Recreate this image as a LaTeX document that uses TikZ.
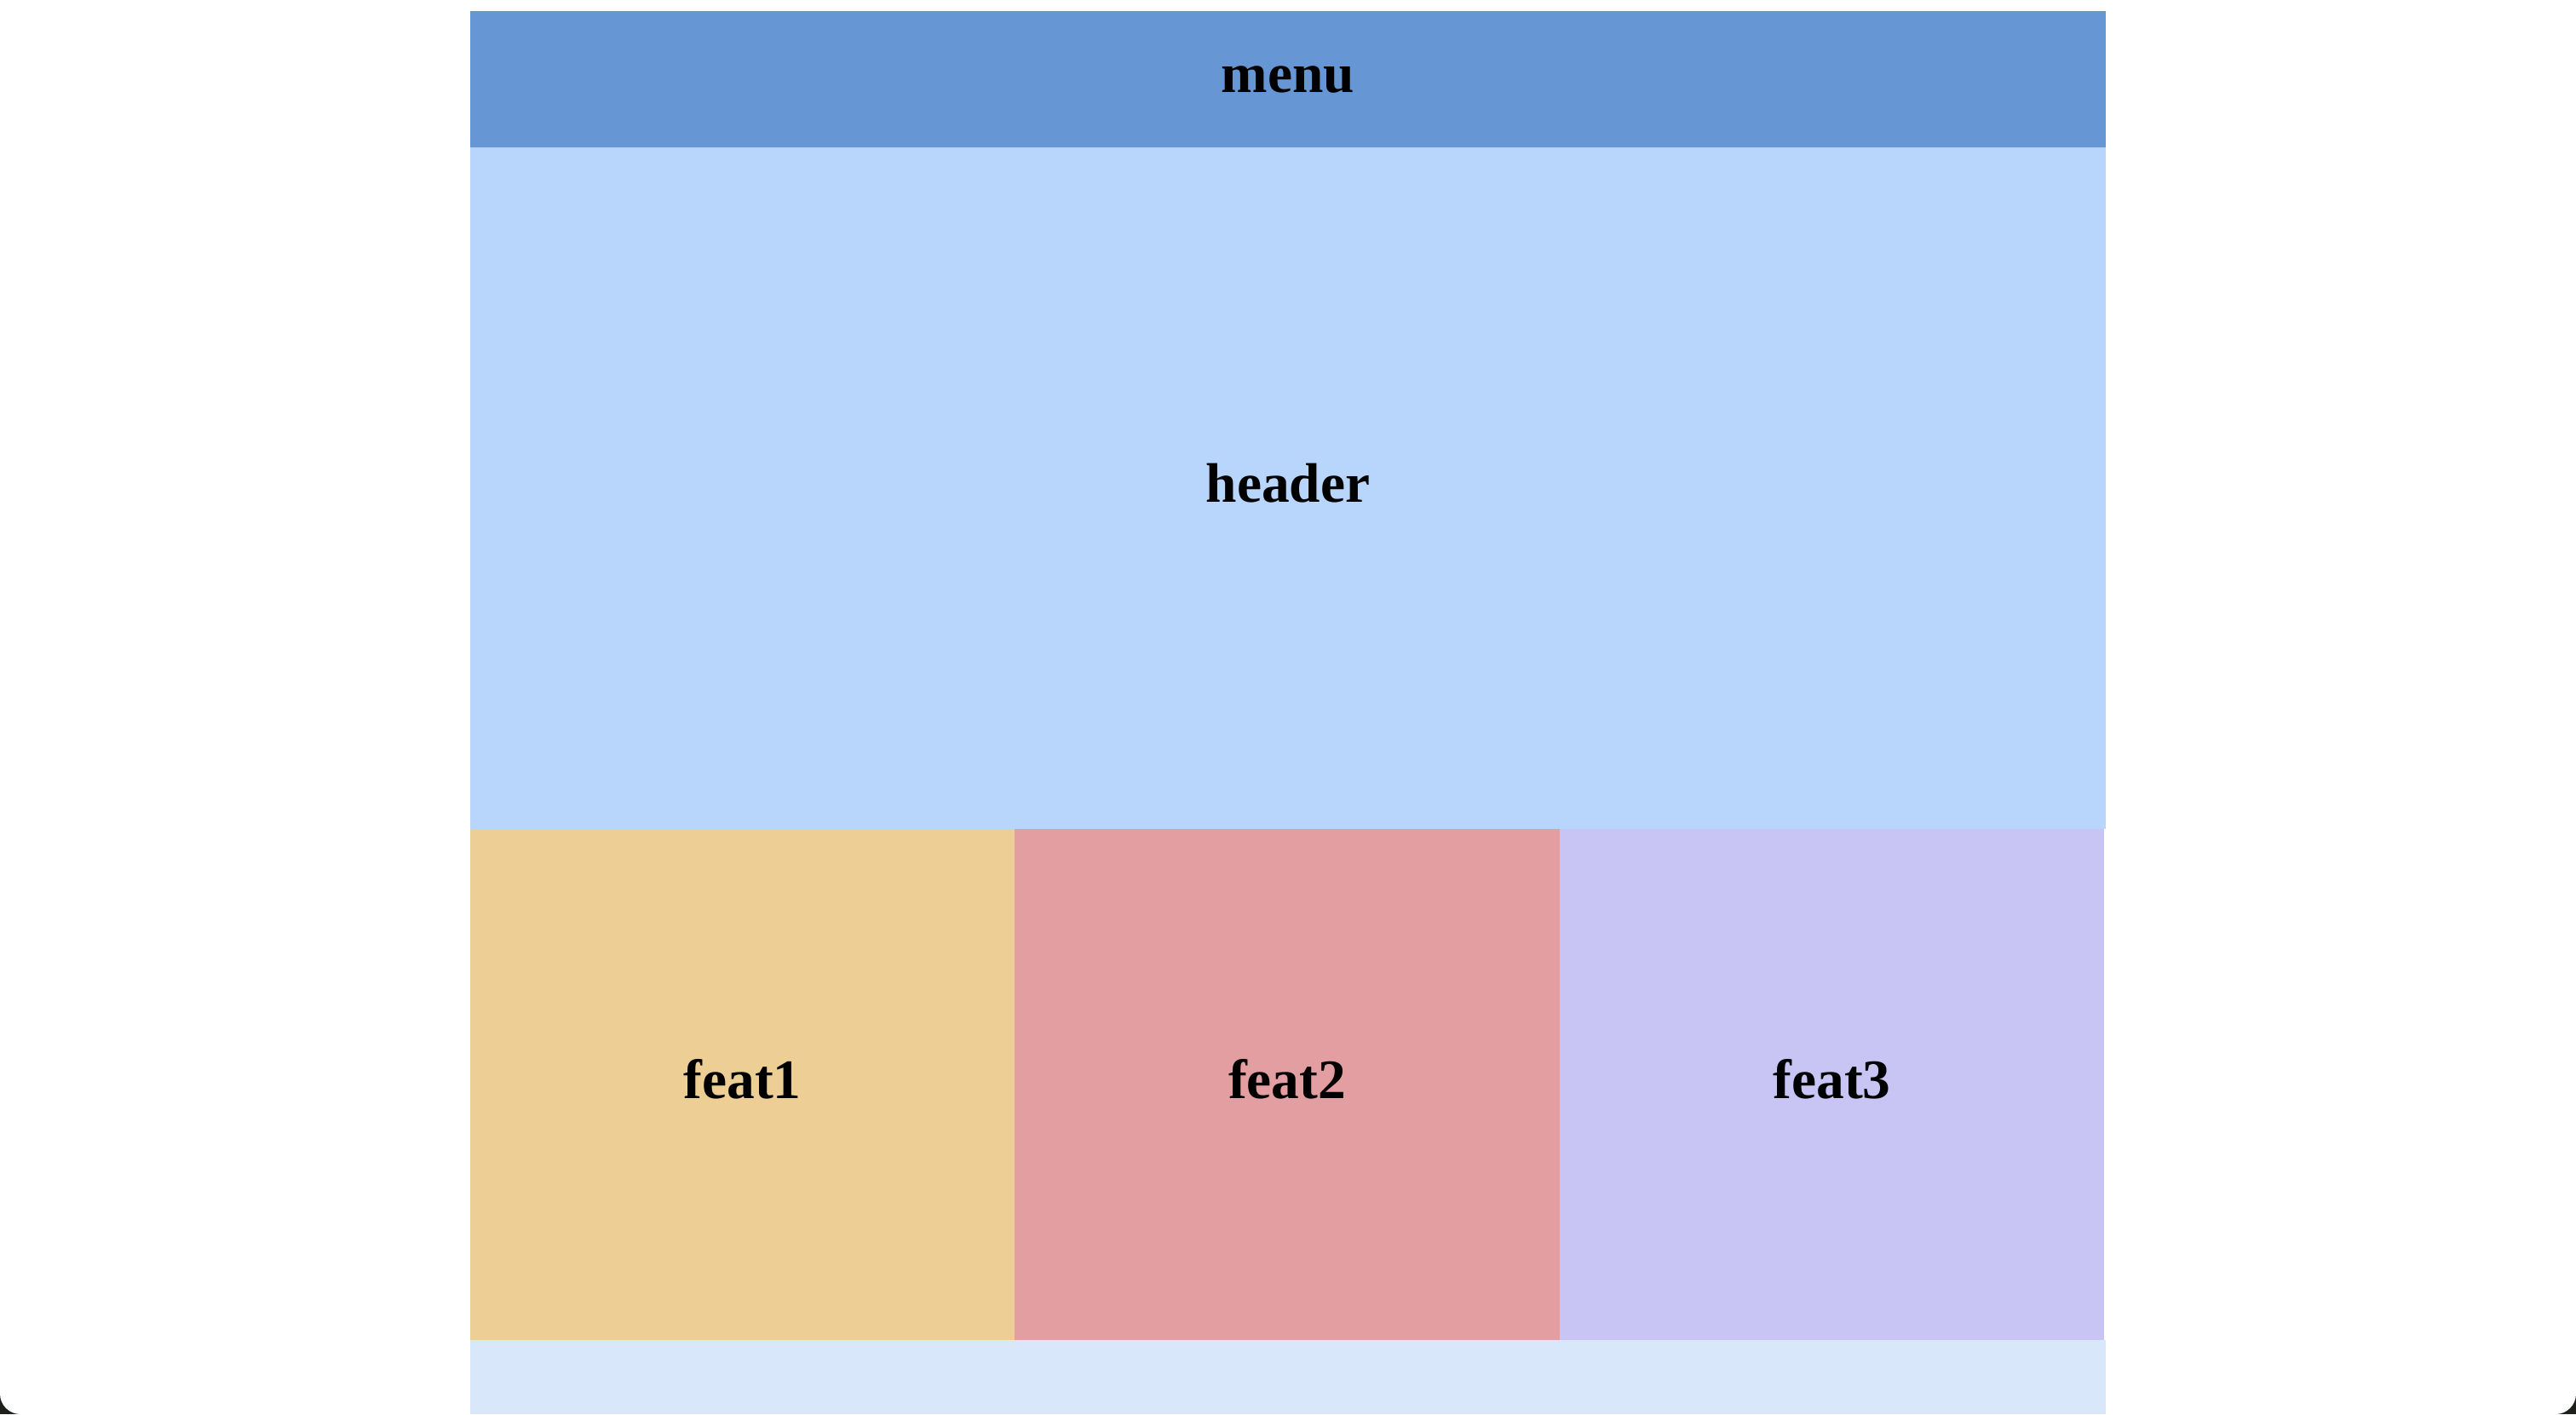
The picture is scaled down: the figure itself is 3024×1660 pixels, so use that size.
\documentclass[tikz,border=0pt]{standalone}
\usepackage{fontspec}
\setmainfont{Liberation Serif}
\definecolor{menuc}{RGB}{103,150,213}
\definecolor{headc}{RGB}{184,213,251}
\definecolor{feata}{RGB}{237,207,150}
\definecolor{featb}{RGB}{227,158,161}
\definecolor{featc}{RGB}{200,197,245}
\definecolor{footc}{RGB}{217,231,250}
\definecolor{cornerc}{RGB}{30,32,30}
\tikzset{lbl/.style={font=\fontsize{18.6}{22}\selectfont\bfseries, text=black, inner sep=0pt}}
\begin{document}
\begin{tikzpicture}[x=0.01cm,y=-0.01cm]
\useasboundingbox (0,0) rectangle (3024,1660);
\fill[cornerc] (0,1560) rectangle (3024,1660);
\fill[white] (0,0) -- (3024,0) [rounded corners=0.24cm] -- (3024,1660) -- (0,1660) [sharp corners] -- cycle;
\fill[menuc] (552,13) rectangle (2472,173);
\fill[headc] (552,173) rectangle (2472,973);
\fill[feata] (552,973) rectangle (1191,1573);
\fill[featb] (1191,973) rectangle (1831,1573);
\fill[featc] (1831,973) rectangle (2470,1573);
\fill[footc] (552,1573) rectangle (2472,1660);
\node[lbl] (menu) at (1512,93) {menu};
\node[lbl] (header) at (1512,567) {header};
\node[lbl] (feat1) at (871.5,1267) {feat1};
\node[lbl] (feat2) at (1511,1267) {feat2};
\node[lbl] (feat3) at (2150.5,1267) {feat3};
\end{tikzpicture}
\end{document}
